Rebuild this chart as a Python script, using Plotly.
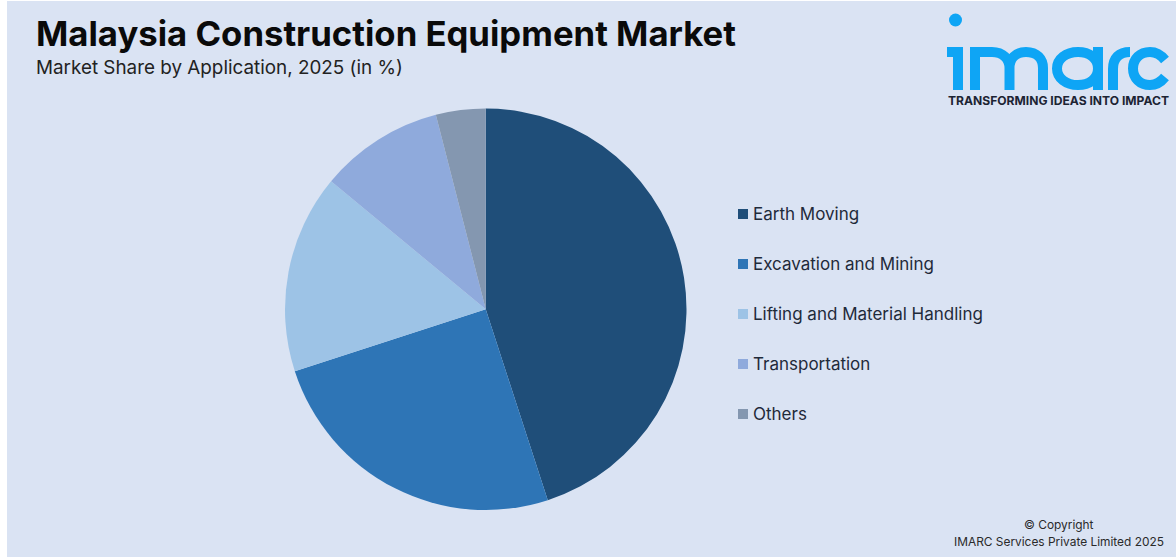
import re
import plotly.graph_objects as go

categories = ["Earth Moving", "Excavation and Mining", "Lifting and Material Handling", "Transportation", "Others"]
shares = [45, 25, 16, 10, 4]
colors = ["#1F4E79", "#2E75B6", "#9DC3E6", "#8FAADC", "#8497B0"]

W, H = 1176, 557
BG = "#DAE3F3"
FONT = "Inter"
BLUE = "#0EA5F5"

def px(x): return x / W
def py(y): return 1 - y / H

def path(d):
    toks = re.findall(r"[A-Za-z]|-?[\d.]+", d)
    out, isx = [], True
    for t in toks:
        if t.isalpha():
            out.append(t); isx = True
        else:
            out.append(f"{px(float(t)):.5f}" if isx else f"{py(float(t)):.5f}")
            isx = not isx
    return " ".join(out)

def text(x, y, s, size, color="#1a1a1a", bold=False, anchor="left"):
    return dict(xref="paper", yref="paper", x=px(x), y=py(y), text=f"<b>{s}</b>" if bold else s,
                showarrow=False, xanchor=anchor, yanchor="middle",
                font=dict(family=FONT, size=size, color=color), borderpad=0, borderwidth=0)

fig = go.Figure(go.Pie(
    labels=categories, values=shares, sort=False, direction="clockwise", rotation=0,
    marker=dict(colors=colors, line=dict(width=0)), textinfo="none", showlegend=False,
    domain=dict(x=[px(285), px(686.5)], y=[py(510), py(108.5)]),
))

shapes = [dict(type="rect", xref="paper", yref="paper", x0=px(7), x1=1, y0=0, y1=py(1),
               fillcolor=BG, line_width=0, layer="below")]
annotations = [
    text(36, 33, "Malaysia Construction Equipment Market", 34.7, "#0a0a0a", True),
    text(36, 67.5, "Market Share by Application, 2025 (in %)", 18.85, "#222222"),
    text(948, 100, "TRANSFORMING IDEAS INTO IMPACT", 12.1, "#1c2433", True),
    text(1059, 524, "© Copyright", 11.9, "#2a2a2a", anchor="center"),
    text(1059, 541, "IMARC Services Private Limited 2025", 11.9, "#2a2a2a", anchor="center"),
]
for i, (c, col) in enumerate(zip(categories, colors)):
    yc = 214 + 50 * i
    shapes.append(dict(type="rect", xref="paper", yref="paper", x0=px(738), x1=px(748),
                       y0=py(yc + 5), y1=py(yc - 5), fillcolor=col, line_width=0))
    annotations.append(text(753, yc, c, 17, "#1f2a3a"))

# logo
shapes.append(dict(type="circle", xref="paper", yref="paper", x0=px(949), x1=px(962), y0=py(26.5), y1=py(13.5),
                   fillcolor=BLUE, line_width=0))
logo = [
    "M947 52 L958 52 L958 90",
    "M975 90 L975 52 L992 52 C1003 52 1009.5 59 1009.5 68 L1009.5 90 M1009.5 68 C1009.5 59 1015 52 1026 52 C1037 52 1043 59 1043 68 L1043 90",
    "M1098 68.5 C1098 58 1089 52 1078 52 C1066 52 1057 59 1057 68.5 C1057 78 1066 85 1078 85 C1089 85 1098 79 1098 68.5 L1098 90 M1098 68.5 L1098 47",
    "M1113 90 L1113 69 C1113 58 1119 52 1130 52",
    "M1165 60 C1161 55 1156 52 1150 52 C1140 52 1133 59 1133 68.5 C1133 78 1140 85 1150 85 C1156 85 1161 82 1165 77",
]
for d in logo:
    shapes.append(dict(type="path", xref="paper", yref="paper", path=path(d),
                       line=dict(color=BLUE, width=10), fillcolor="rgba(0,0,0,0)"))

fig.update_layout(width=W, height=H, margin=dict(l=0, r=0, t=0, b=0), autosize=False,
                  paper_bgcolor="white", shapes=shapes, annotations=annotations)
fig.write_html("out.html", config=dict(displayModeBar=False),
               post_script="document.body.style.margin='0';document.body.style.overflow='hidden';")
